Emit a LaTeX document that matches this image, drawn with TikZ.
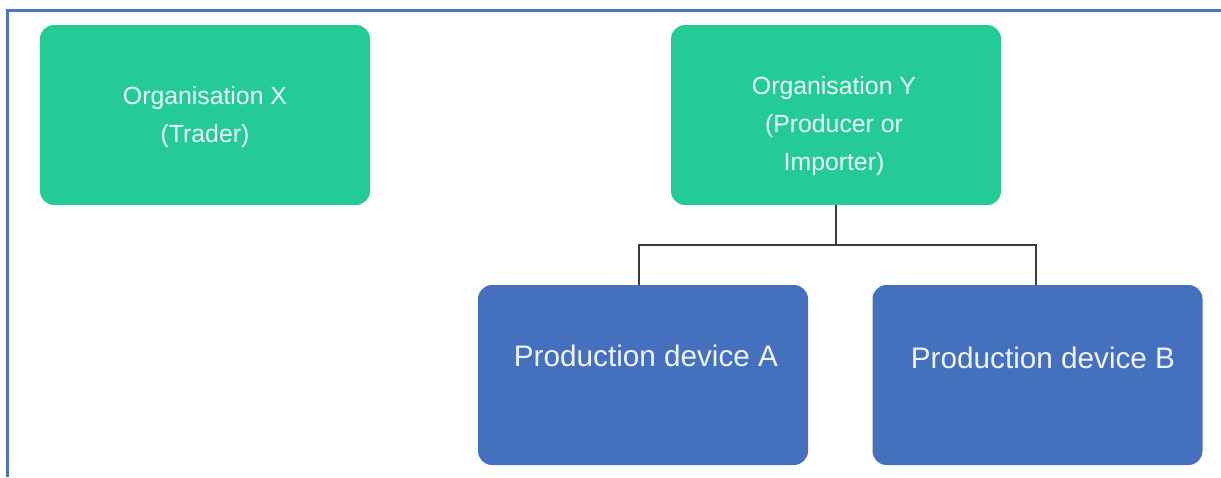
\documentclass[tikz,border=0pt]{standalone}
\usepackage{fontspec}
\setmainfont{Liberation Sans}
\definecolor{orggreen}{HTML}{25CB97}
\definecolor{devblue}{HTML}{4570BD}
\definecolor{framebl}{HTML}{4A74C6}
\definecolor{linkgray}{HTML}{3C3C3C}
\definecolor{orgtext}{HTML}{EAFBF4}
\definecolor{devtext}{HTML}{EEF3FF}
\tikzset{
  box/.style={rounded corners=14pt, inner sep=0pt},
  orgbox/.style={box, fill=orggreen, minimum width=330pt, minimum height=180pt},
  devbox/.style={box, fill=devblue, minimum width=330pt, minimum height=180pt},
  orglabel/.style={text=orgtext, align=center, font=\fontsize{24.8pt}{38pt}\selectfont, inner sep=0pt},
  devlabel/.style={text=devtext, font=\fontsize{29.7pt}{34pt}\selectfont, inner sep=0pt},
  link/.style={draw=linkgray, line width=2pt},
  frameline/.style={draw=framebl, line width=2.2pt}
}
\begin{document}
\begin{tikzpicture}[x=1pt, y=-1pt]
  \useasboundingbox (0,0) rectangle (1221,477);
  % page frame (top and left edges)
  \coordinate (frameTR) at (1221,10.5);
  \coordinate (frameTL) at (7.5,10.5);
  \coordinate (frameBL) at (7.5,477);
  \draw[frameline] (frameTR) -- (frameTL) -- (frameBL);

  % organisations
  \node[orgbox] (orgx) at (205,115) {};
  \node[orglabel] (orgxtext) at (205,117) {Organisation X\\(Trader)};
  \node[orgbox] (orgy) at (836,115) {};
  \node[orglabel] (orgytext) at (834,126) {Organisation Y\\(Producer or\\Importer)};

  % production devices
  \node[devbox] (deva) at (643,375) {};
  \node[devlabel] (devatext) at (646,356) {Production device A};
  \node[devbox] (devb) at (1037.5,375) {};
  \node[devlabel] (devbtext) at (1043,358) {Production device B};

  % tree connector
  \coordinate (bus) at ([yshift=-40pt]orgy.south);
  \draw[link] (orgy.south) -- (bus);
  \draw[link] (bus) -| ([xshift=-4pt]deva.north);
  \draw[link] (bus) -| ([xshift=-1.5pt]devb.north);
\end{tikzpicture}
\end{document}
